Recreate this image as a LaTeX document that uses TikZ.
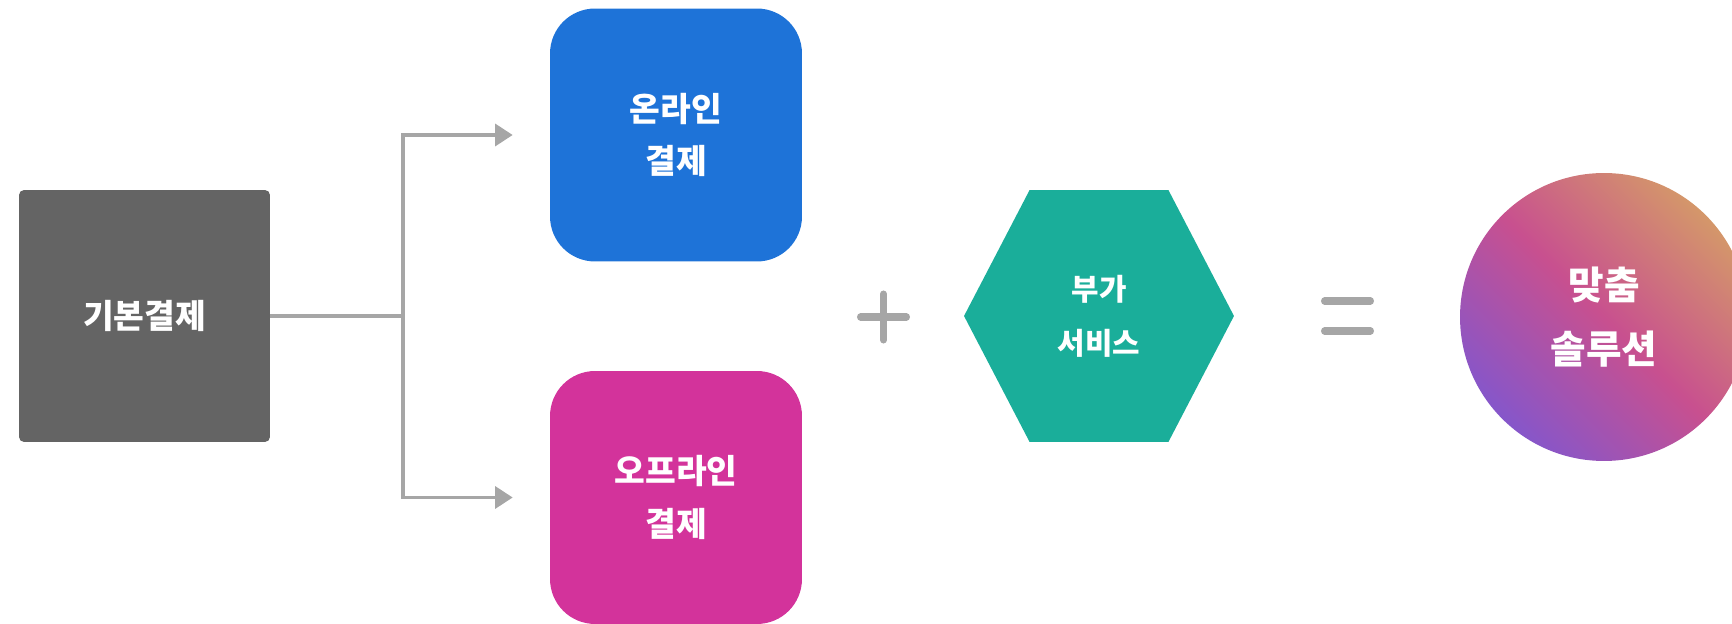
\documentclass[tikz,border=0pt]{standalone}
\usepackage{fontspec}
\setmainfont{Noto Sans CJK KR}
\usetikzlibrary{shapes,shapes.symbols,arrows.meta,positioning}
\definecolor{basegrey}{HTML}{646464}
\definecolor{payblue}{HTML}{1E73D8}
\definecolor{paypink}{HTML}{D3339B}
\definecolor{addteal}{HTML}{1AAE9A}
\definecolor{linegrey}{HTML}{A6A6A6}
\definecolor{solorange}{HTML}{D4976A}
\definecolor{solpink}{HTML}{C8508F}
\definecolor{solpurple}{HTML}{8656CA}
\pgfdeclareverticalshading{solshade}{100bp}{color(0bp)=(solpurple); color(25bp)=(solpurple); color(50bp)=(solpink); color(75bp)=(solorange); color(100bp)=(solorange)}
\tikzstyle{boxtext} = [text=white, align=center, font=\fontsize{19}{30}\selectfont\bfseries]
\tikzstyle{base} = [rectangle, fill=basegrey, boxtext, minimum width=5.02cm, minimum height=5.04cm, rounded corners=0.1cm]
\tikzstyle{pay} = [rectangle, boxtext, minimum width=5.04cm, minimum height=5.06cm, rounded corners=0.9cm]
\tikzstyle{extra} = [signal, signal to=west and east, signal pointer angle=125, fill=addteal, boxtext, inner sep=0pt, minimum width=5.4cm, minimum height=5.04cm, font=\fontsize{17}{30.6}\selectfont\bfseries]
\tikzstyle{result} = [circle, boxtext, minimum size=5.76cm, shading=solshade, shading angle=-45, font=\fontsize{22}{36.8}\selectfont\bfseries]
\tikzstyle{line} = [draw, linegrey, line width=2pt, -{Triangle[length=10pt,width=12.5pt]}]
\tikzstyle{sign} = [draw, linegrey, line width=4pt, line cap=round]

\begin{document}
\begin{tikzpicture}[x=0.02cm, y=-0.02cm]
    \useasboundingbox (0,0) rectangle (1732,624);
    \node [base] (basic) at (144.5,316) {기본결제};
    \node [pay, fill=payblue] (online) at (676,135) {온라인\\결제};
    \node [pay, fill=paypink] (offline) at (676,497.5) {오프라인\\결제};
    \node [extra] (service) at (1099,316) {부가\\서비스};
    \node [result] (solution) at (1604,317) {맞춤\\솔루션};
    \coordinate (split) at (403,316);
    \path [line, shorten >=0.74cm] (basic.east) -- (split) |- (online.west);
    \path [line, shorten >=0.74cm] (split) |- (offline.west);
    % plus and equals
    \path [sign] (860.5,317) -- (906.5,317) (883.5,294) -- (883.5,340);
    \path [sign] (1324.5,301) -- (1370.5,301) (1324.5,331) -- (1370.5,331);
  \end{tikzpicture}
\end{document}
